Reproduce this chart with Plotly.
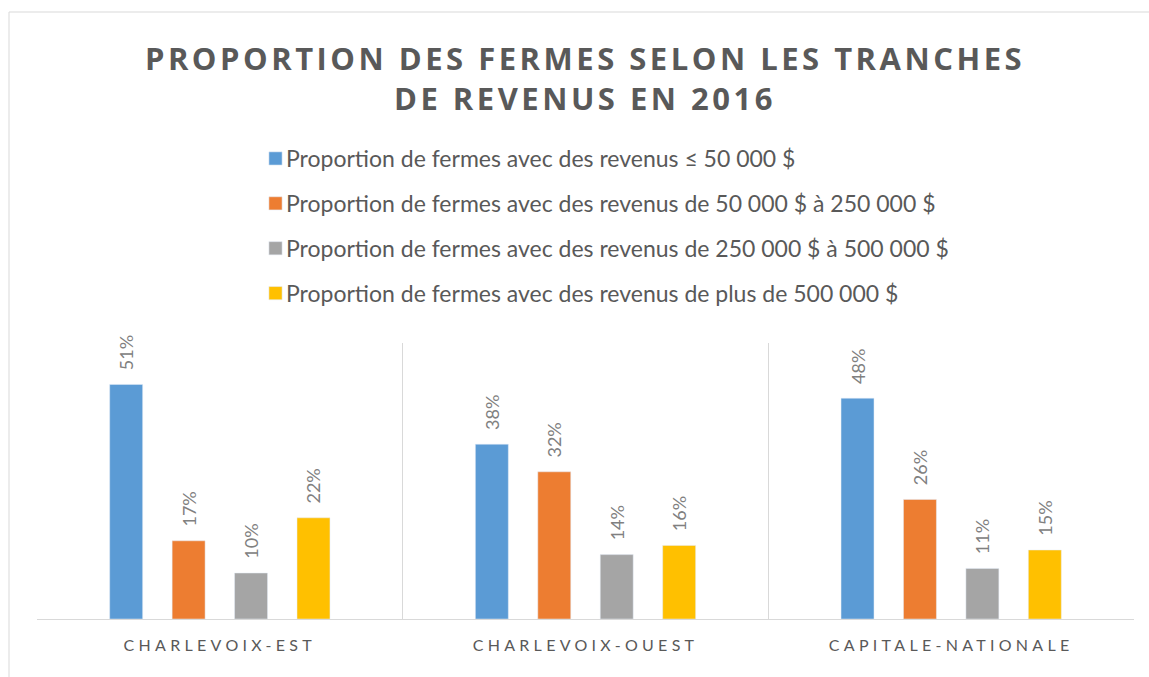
import plotly.graph_objects as go

categories = ["CHARLEVOIX-EST", "CHARLEVOIX-OUEST", "CAPITALE-NATIONALE"]
series_names = [
    "Proportion de fermes avec des revenus ≤ 50 000 $",
    "Proportion de fermes avec des revenus de 50 000 $ à 250 000 $",
    "Proportion de fermes avec des revenus de 250 000 $ à 500 000 $",
    "Proportion de fermes avec des revenus de plus de 500 000 $",
]
rev_le_50k = [0.51, 0.38, 0.48]
rev_50k_250k = [0.17, 0.32, 0.26]
rev_250k_500k = [0.10, 0.14, 0.11]
rev_gt_500k = [0.22, 0.16, 0.15]
series_values = [rev_le_50k, rev_50k_250k, rev_250k_500k, rev_gt_500k]
colors = ["#5B9BD5", "#ED7D31", "#A5A5A5", "#FFC000"]

fig = go.Figure()
for i, (name, vals, col) in enumerate(zip(series_names, series_values, colors)):
    fig.add_trace(go.Bar(
        x=categories, y=vals, name=name, marker_color=col,
        legendgroup=f"g{i}",
        texttemplate="\u2002\u2009%{y:.0%}", textposition="outside", textangle=-90,
        textfont=dict(family="Lato", size=18, color="#808080"),
        cliponaxis=False,
    ))

W, H = 1149, 677
L, R, T, B = 37, 15, 343, 58
pw, ph = W - L - R, H - T - B

def px2x(px):
    return (px - L) / pw

def py2y(py):
    return (H - B - py) / ph

fig.update_layout(
    width=W, height=H,
    margin=dict(l=L, r=R, t=T, b=B, autoexpand=False),
    paper_bgcolor="white", plot_bgcolor="white",
    barmode="group", bargap=0.317, bargroupgap=0.472,
    uniformtext=dict(minsize=18, mode="show"),
    title=dict(
        text="PROPORTION DES FERMES SELON LES TRANCHES<br>DE REVENUS EN 2016",
        x=585 / W, xanchor="center", xref="container",
        y=1 - 70 / H, yanchor="middle", yref="container",
        font=dict(family="Open Sans", size=31, color="#595959", weight=700),
    ),
    legend=dict(
        xref="container", yref="container",
        x=246 / W, xanchor="left", y=1 - 137 / H, yanchor="top",
        font=dict(family="Lato", size=23, color="#595959"),
        tracegroupgap=12, bgcolor="rgba(0,0,0,0)",
    ),
    showlegend=True,
    xaxis=dict(
        type="category", tickson="boundaries", ticks="", tickangle=0,
        showgrid=True, gridcolor="#D9D9D9", gridwidth=1,
        showline=True, linecolor="#D9D9D9", linewidth=1,
        tickfont=dict(family="Lato", size=16, color="#595959"),
        ticklabelstandoff=12, automargin=False,
    ),
    yaxis=dict(
        range=[0, 0.6], showticklabels=False, showgrid=False,
        zeroline=False, showline=False, automargin=False,
    ),
    shapes=[dict(
        type="rect", xref="paper", yref="paper",
        x0=px2x(9), x1=px2x(1165), y0=py2y(700), y1=py2y(12),
        line=dict(color="#D9D9D9", width=1), fillcolor="rgba(0,0,0,0)",
        layer="below",
    )],
)

post = """
document.body.style.margin='0';
var gd = document.getElementById('{plot_id}');
function ls(){
  gd.querySelectorAll('.gtitle').forEach(function(e){ e.style.letterSpacing='3.5px'; });
  gd.querySelectorAll('.xtick text').forEach(function(e){ e.style.letterSpacing='4.3px'; });
  gd.querySelectorAll('.legendpoints path').forEach(function(e){ e.setAttribute('transform','translate(29.5,0) scale(1.1)'); });
}
ls();
gd.on('plotly_afterplot', ls);
"""

fig.write_html("out.html", post_script=post, config={"displayModeBar": False})
